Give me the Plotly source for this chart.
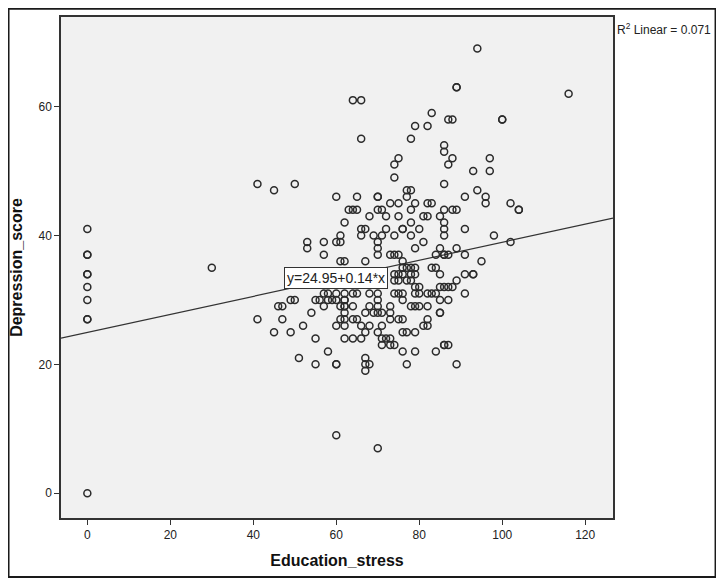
import plotly.graph_objects as go

# Education_stress / Depression_score values
edu_stress = [
    0, 0, 0, 0, 0, 0, 0, 0, 0, 0, 30,
    64, 66, 66, 83, 79, 82, 78, 87, 86, 86, 75, 94, 89, 89, 116, 88, 100, 100, 88, 87, 97, 93, 97,
    86, 91, 94, 96, 96, 102, 104, 104, 86, 88, 89, 86, 86, 91, 98, 102, 89, 86, 91, 95, 85, 91, 93, 93,
    89, 86, 87, 88, 85, 87, 91, 85, 86, 87, 89,
    41, 45, 50, 60, 63, 62, 61, 60, 61, 53, 53, 57, 57, 61, 62, 49, 57,
    50, 55, 58, 60, 62, 47, 57, 61, 62, 54, 62, 41, 47, 61, 62, 52, 60, 62, 45, 49, 55, 62, 58, 51,
    55, 60, 60, 60,
    74, 74, 77, 78, 77, 79, 70, 70, 65, 73, 75, 82, 83, 64, 65, 70, 71, 78, 68, 72, 75, 81, 82, 85,
    78, 66, 67, 72, 76, 76, 80, 86, 66, 69, 71, 74, 78, 70, 70, 81, 79, 73, 74, 75, 84, 85, 86, 87,
    67, 76, 76, 77, 78, 79, 83, 84, 74, 75, 76, 78, 79, 74, 75, 77, 78, 79, 80, 85,
    64, 65, 70, 74, 75, 76, 79, 80, 83, 84,
    70, 76, 82, 62, 62, 64, 68, 70, 70, 73, 78, 79, 80, 82, 67, 69, 71, 73, 73, 85, 64, 65, 75, 76,
    82, 66, 68, 71, 81, 82, 67, 70, 76, 77, 79, 64, 66, 71, 72, 73, 71, 73, 74, 76, 79, 84, 86,
    67, 67, 67, 68, 77, 70,
    70, 56, 59, 58, 60, 62, 68, 46,
]
depression = [
    41, 37, 37, 34, 34, 32, 30, 27, 27, 0, 35,
    61, 61, 55, 59, 57, 57, 55, 58, 54, 53, 52, 69, 63, 63, 62, 58, 58, 58, 52, 51, 52, 50, 50,
    48, 46, 47, 46, 45, 45, 44, 44, 44, 44, 44, 42, 41, 41, 40, 39, 38, 37, 37, 36, 34, 34, 34, 34,
    33, 32, 32, 32, 30, 30, 31, 28, 23, 23, 20,
    48, 47, 48, 46, 44, 42, 40, 39, 39, 39, 38, 39, 37, 36, 36, 30, 31,
    30, 30, 30, 30, 30, 29, 29, 29, 29, 28, 28, 27, 27, 27, 27, 26, 26, 26, 25, 25, 24, 24, 22, 21,
    20, 20, 20, 9,
    51, 49, 47, 47, 46, 45, 46, 46, 46, 45, 45, 45, 45, 44, 44, 44, 44, 44, 43, 43, 43, 43, 43, 43,
    42, 41, 41, 41, 41, 41, 41, 40, 40, 40, 40, 40, 40, 39, 38, 39, 38, 37, 37, 37, 37, 38, 37, 37,
    36, 36, 35, 35, 35, 35, 35, 35, 34, 34, 34, 34, 34, 33, 33, 33, 33, 32, 32, 32,
    31, 31, 31, 31, 31, 31, 31, 31, 31, 31,
    30, 30, 31, 30, 29, 29, 29, 29, 28, 29, 29, 29, 29, 29, 28, 28, 28, 28, 27, 28, 27, 27, 27, 27,
    27, 26, 26, 26, 26, 26, 25, 25, 25, 25, 25, 24, 24, 24, 24, 24, 23, 23, 23, 22, 22, 22, 23,
    21, 20, 19, 20, 20, 7,
    37, 30, 30, 31, 31, 31, 31, 29,
]

intercept, slope = 24.95, 0.14
x_range = [-6.35, 126.7]
y_range = [-3.84, 73.9]
fit_x = x_range
fit_y = [intercept + slope * v for v in fit_x]

font_family = "Liberation Sans, Arial, sans-serif"

# page body has an 8px margin, so the figure is sized to fit inside it
W, H = 708, 570
ml, mr, mt, mb = 53.4, 103.4, 9.3, 60
pw, ph = W - ml - mr, H - mt - mb

fig = go.Figure()
fig.add_trace(go.Scatter(
    x=fit_x, y=fit_y, mode='lines',
    line=dict(color='#333333', width=1.2), hoverinfo='skip', showlegend=False,
))
fig.add_trace(go.Scatter(
    x=edu_stress, y=depression, mode='markers',
    marker=dict(symbol='circle-open', size=7, color='#2b2b2b', line=dict(width=1.5)),
    showlegend=False,
))

# Fit equation label, sitting on the line
fig.add_annotation(
    x=47.5, y=31.7, xref='x', yref='y', xanchor='left', yanchor='bottom',
    text='y=24.95+0.14*x', showarrow=False,
    font=dict(family=font_family, size=14, color='#222222'),
    bgcolor='white', bordercolor='#333333', borderwidth=1, borderpad=2,
)
fig.add_annotation(
    x=1.003, y=1 - 12 / ph, xref='paper', yref='paper', xanchor='left', yanchor='middle',
    text='R<sup>2</sup> Linear = 0.071', showarrow=False,
    font=dict(family=font_family, size=12, color='#222222'),
)

# outer frame of the picture
fig.add_shape(
    type='rect', xref='paper', yref='paper',
    x0=(1 - ml) / pw, x1=(W - 1 - ml) / pw, y0=(1 - mb) / ph, y1=1 + (mt - 1) / ph,
    line=dict(color='#1a1a1a', width=2), layer='above',
)

axis_common = dict(
    showgrid=False, zeroline=False, showline=True, mirror=True, automargin=False,
    linecolor='#333333', linewidth=1.5, ticks='outside', ticklen=5,
    tickcolor='#333333', tickwidth=1.2,
    tickfont=dict(family=font_family, size=12, color='#222222'),
)
fig.update_xaxes(
    range=x_range, tickvals=[0, 20, 40, 60, 80, 100, 120],
    title=dict(text='<b>Education_stress</b>', standoff=14,
               font=dict(family=font_family, size=16, color='#111111')),
    **axis_common,
)
fig.update_yaxes(
    range=y_range, tickvals=[0, 20, 40, 60],
    title=dict(text='<b>Depression_score</b>', standoff=12,
               font=dict(family=font_family, size=16, color='#111111')),
    **axis_common,
)
fig.update_layout(
    width=W, height=H,
    margin=dict(l=ml, r=mr, t=mt, b=mb, autoexpand=False),
    plot_bgcolor='#f1f1f1', paper_bgcolor='white',
)
fig.write_html("out.html")
